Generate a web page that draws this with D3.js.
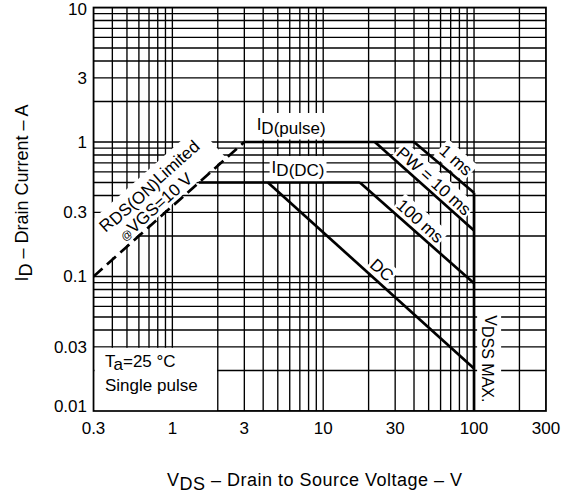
<!DOCTYPE html>
<html><head><meta charset="utf-8">
<script src="https://cdn.jsdelivr.net/npm/d3@7"></script>
<style>
body{margin:0;background:#fff}
text{font-family:"Liberation Sans",Arial,Helvetica,sans-serif;fill:#000}
</style>
</head><body>
<svg id="c" width="573" height="495"></svg>
<script>
// ---- data ----
const xTicks = [0.3, 1, 3, 10, 30, 100, 300];
const yTicks = [0.01, 0.03, 0.1, 0.3, 1, 3, 10];
const xGrid = [0.3,0.4,0.5,0.6,0.7,0.8,0.9,1,2,3,4,5,6,7,8,9,10,20,30,40,50,60,70,80,90,100,200,300];
const yGrid = [0.01,0.02,0.03,0.04,0.05,0.06,0.07,0.08,0.09,0.1,0.2,0.3,0.4,0.5,0.6,0.7,0.8,0.9,1,2,3,4,5,6,7,8,9,10];
const rdsLimit = [[0.3, 0.1], [3, 1]];
const idPulse  = [[3, 1], [40, 1]];
const idDC     = [[1.5, 0.5], [17.5, 0.5]];
const pw1ms    = [[40, 1], [100, 0.42]];
const pw10ms   = [[22, 1], [100, 0.22]];
const pw100ms  = [[17.5, 0.5], [100, 0.089]];
const dcLine   = [[4.3, 0.5], [100, 0.0207]];
const vdssMax  = [[100, 0.42], [100, 0.01]];

// ---- layout ----
const X0 = 93.5, X1 = 546, Y0 = 7.5, Y1 = 411;
const x = d3.scaleLog().domain([0.3, 300]).range([X0, X1]);
const y = d3.scaleLog().domain([0.01, 10]).range([Y1, Y0]);
const ang = Math.atan2(y(1) - y(0.1), x(3) - x(0.3)) * 180 / Math.PI; // ~ -41.7

const svg = d3.select('#c');
svg.append('defs').append('clipPath').attr('id', 'pc')
  .append('rect').attr('x', X0).attr('y', Y0).attr('width', X1 - X0).attr('height', Y1 - Y0);

const gridG = svg.append('g').attr('clip-path', 'url(#pc)').attr('stroke', '#000').attr('stroke-width', 1.35);
gridG.selectAll('line.v').data(xGrid).join('line').attr('class', 'v')
  .attr('x1', d => x(d)).attr('x2', d => x(d)).attr('y1', Y0).attr('y2', Y1);
gridG.selectAll('line.h').data(yGrid).join('line').attr('class', 'h')
  .attr('y1', d => y(d)).attr('y2', d => y(d)).attr('x1', X0).attr('x2', X1);

const maskG = svg.append('g').attr('clip-path', 'url(#pc)');
const curveG = svg.append('g').attr('clip-path', 'url(#pc)');
const borderG = svg.append('g');
const textG = svg.append('g');

// Ta box mask
maskG.append('rect').attr('x', x(0.3) + 1).attr('y', y(0.03) + 1)
  .attr('width', x(2) - x(0.3) - 1.8).attr('height', y(0.01) - y(0.03) - 1).attr('fill', '#fff');

// border
borderG.append('rect').attr('x', X0).attr('y', Y0).attr('width', X1 - X0).attr('height', Y1 - Y0)
  .attr('fill', 'none').attr('stroke', '#000').attr('stroke-width', 1.7);

// curves
const line = d3.line().x(d => x(d[0])).y(d => y(d[1]));
[idPulse, idDC, pw1ms, pw10ms, pw100ms, dcLine, vdssMax].forEach(s => {
  curveG.append('path').attr('d', line(s)).attr('fill', 'none').attr('stroke', '#000').attr('stroke-width', 2.7);
});
curveG.append('path').attr('d', line(rdsLimit)).attr('fill', 'none').attr('stroke', '#000')
  .attr('stroke-width', 2.7).attr('stroke-dasharray', '12,6');

// helper: text with a white box behind in mask layer
function label(tf, build, pad) {
  const g = textG.append('g').attr('transform', tf);
  const t = g.append('text');
  build(t);
  const b = t.node().getBBox();
  maskG.append('g').attr('transform', tf).append('rect')
    .attr('x', b.x - pad).attr('y', b.y - pad).attr('width', b.width + 2 * pad).attr('height', b.height + 2 * pad)
    .attr('fill', '#fff');
  return g;
}

// ID(pulse)
label(`translate(${x(3.62)},${y(1) - 12})`, t => {
  t.attr('font-size', 17);
  t.append('tspan').text('I');
  t.append('tspan').attr('dy', 3.5).text('D(pulse)');
}, 2);
// ID(DC)
label(`translate(${x(4.55)},${y(0.5) - 9.5})`, t => {
  t.attr('font-size', 17);
  t.append('tspan').text('I');
  t.append('tspan').attr('dy', 3.5).text('D(DC)');
}, 2);

// RDS(ON) band
{
  const p0 = [x(0.77), y(0.2567)];
  const tf = `translate(${p0[0]},${p0[1]}) rotate(${ang})`;
  maskG.append('g').attr('transform', tf).append('rect')
    .attr('x', -80).attr('y', -43).attr('width', 175).attr('height', 41.5).attr('fill', '#fff');
  const g = textG.append('g').attr('transform', tf);
  const t1 = g.append('text').attr('font-size', 17).attr('text-anchor', 'middle').attr('x', 19).attr('y', -24.5);
  t1.append('tspan').text('R');
  t1.append('tspan').attr('dy', 1.5).text('DS(ON)');
  t1.append('tspan').attr('dy', -1.5).text('Limited');
  const t2 = g.append('text').attr('font-size', 17).attr('text-anchor', 'middle').attr('x', 10).attr('y', -5);
  t2.append('tspan').attr('font-size', 11).text('@');
  t2.append('tspan').text('VGS=10 V');
}

// pulse width labels along slope -1 lines
const slopeLabels = [
  {text: '1 ms', v: 76, i: 0.734},
  {text: 'PW = 10 ms', v: 54.2, i: 0.513},
  {text: '100 ms', v: 43.9, i: 0.259},
  {text: 'DC', v: 24.5, i: 0.112}
];
slopeLabels.forEach(d => {
  label(`translate(${x(d.v)},${y(d.i)}) rotate(${-ang})`, t => {
    t.attr('font-size', 17).attr('text-anchor', 'middle').attr('dy', '0.35em').text(d.text);
  }, 1.5);
});

// VDSS MAX.
label(`translate(${x(129)},${y(0.0244)}) rotate(90)`, t => {
  t.attr('font-size', 16).attr('text-anchor', 'middle').attr('dy', '0.35em');
  t.append('tspan').text('V');
  t.append('tspan').attr('dy', 3).text('DSS MAX.');
}, 2);

// Ta / Single pulse
{
  const t1 = textG.append('text').attr('font-size', 17).attr('x', 105).attr('y', 367);
  t1.append('tspan').text('T');
  t1.append('tspan').attr('dy', 3).text('a');
  t1.append('tspan').attr('dy', -3).text('=25 °C');
  textG.append('text').attr('font-size', 17).attr('x', 105).attr('y', 391).text('Single pulse');
}

// tick labels
svg.append('g').selectAll('text').data(xTicks).join('text')
  .attr('x', d => x(d)).attr('y', 434).attr('text-anchor', 'middle').attr('font-size', 17)
  .text(d => String(d));
svg.append('g').selectAll('text').data(yTicks).join('text')
  .attr('x', 87).attr('y', d => y(d) + (d === 0.01 ? -5 : d === 10 ? 2 : 0)).attr('dy', '0.35em')
  .attr('text-anchor', 'end').attr('font-size', 17).text(d => String(d));

// axis titles
{
  const t = svg.append('text').attr('font-size', 18).attr('x', 167).attr('y', 486)
    .attr('textLength', 295).attr('lengthAdjust', 'spacing');
  t.append('tspan').text('V');
  t.append('tspan').attr('dy', 4).text('DS');
  t.append('tspan').attr('dy', -4).text(' \u2013 Drain to Source Voltage \u2013 V');
}
{
  const t = svg.append('text').attr('font-size', 18)
    .attr('transform', 'translate(28,193) rotate(-90)').attr('text-anchor', 'middle');
  t.append('tspan').text('I');
  t.append('tspan').attr('dy', 4).text('D');
  t.append('tspan').attr('dy', -4).text(' \u2013 Drain Current \u2013 A');
}
</script>
</body></html>
